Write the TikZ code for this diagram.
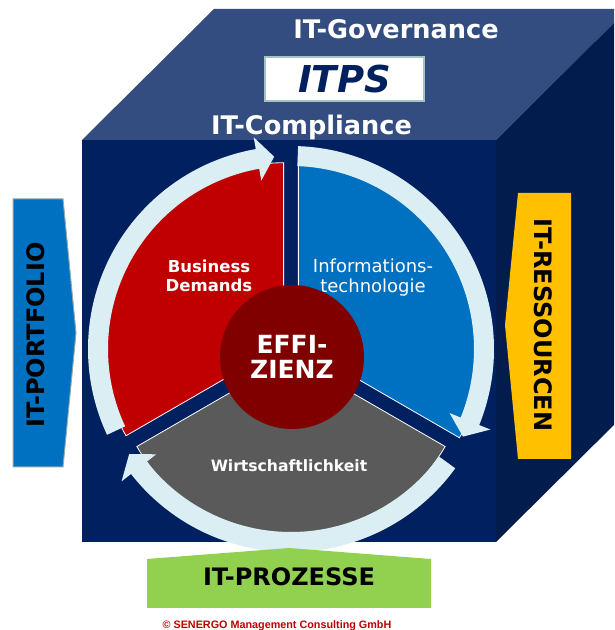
\documentclass[tikz,border=0pt]{standalone}
\usepackage{fontspec}
\setmainfont{DejaVu Sans}
\newfontfamily\arialfont{Liberation Sans}
\usepackage{tikz}
\usepackage{xcolor}

\definecolor{cubetop}{HTML}{344D80}
\definecolor{cubefront}{HTML}{002060}
\definecolor{cubeside}{HTML}{031C4E}
\definecolor{ringcol}{HTML}{DAEEF3}
\definecolor{redseg}{HTML}{C00000}
\definecolor{blueseg}{HTML}{0070C0}
\definecolor{grayseg}{HTML}{5A5A5A}
\definecolor{effcol}{HTML}{800000}
\definecolor{portline}{HTML}{8FA8B0}
\definecolor{ressocol}{HTML}{FFC000}
\definecolor{prozcol}{HTML}{92D050}
\definecolor{itpsline}{HTML}{A7C2C6}
\definecolor{itpstext}{HTML}{002060}

\tikzset{
	cubetext/.style = {text = white, anchor = base, inner sep = 0pt, font = \fontsize{25.6}{30}\selectfont\bfseries},
	segtext/.style  = {text = white, align = center, inner sep = 0pt, font = \fontsize{16.5}{19}\selectfont\bfseries},
	sidetext/.style = {text = black, inner sep = 0pt, font = \fontsize{24}{28}\selectfont\bfseries},
	segment/.style  = {draw = white, line width = 0.8pt},
}

\begin{document}
\begin{tikzpicture}[x = 1pt, y = 1pt]

	\useasboundingbox (0, 0) rectangle (614, 630);
	\clip (0, 0) rectangle (614, 630);

	% Wuerfel
	\fill[cubetop]   ( 82, 490) -- (496, 490) -- (628, 621) -- (214, 621) -- cycle; % Oberseite
	\fill[cubeside]  (496, 490) -- (628, 621) -- (628, 219) -- (496,  88) -- cycle; % rechte Seite
	\fill[cubefront] ( 82,  88) rectangle (496, 490); % Vorderseite

	\node[cubetext] (governance) at (396, 591.7) {IT-Governance};
	\node[draw = itpsline, line width = 1.5pt, fill = white, minimum width = 159pt, minimum height = 44pt, inner sep = 0pt,
		text = itpstext, font = \fontsize{37}{40}\selectfont\bfseries\itshape] (itps) at (344.5, 551) {ITPS};
	\node[cubetext] (compliance) at (311.5, 495) {IT-Compliance};

	\begin{scope}[shift = {(291, 281)}]
		% Segmente
		\fill[segment, fill = redseg,  shift = {(150:8.5)}] (0, 0) -- ( 90:182) arc[start angle =  90, end angle = 210, radius = 182] -- cycle;
		\fill[segment, fill = blueseg, shift = {( 30:8.5)}] (0, 0) -- (-30:186) arc[start angle = -30, end angle =  90, radius = 186] -- cycle;
		\fill[segment, fill = grayseg, shift = {(270:8.5)}] (0, 0) -- (210:178) arc[start angle = 210, end angle = 330, radius = 178] -- cycle;

		% Kreispfeile
		\foreach \tail/\tip in {205/95, 88/-27, -36/-147}{
			\pgfmathsetmacro{\base}{\tip + 5}
			\fill[ringcol] (\tail:183) arc[start angle = \tail, end angle = \base, radius = 183] -- (\base:171) -- (\tip:193)
				-- (\base:215) -- (\base:203) arc[start angle = \base, end angle = \tail, radius = 203] -- cycle;
		}
	\end{scope}

	\node[segtext] (business) at (209, 354) {Business\\Demands};
	\node[segtext, font = \fontsize{18}{20}\selectfont] (informations) at (373, 352) {Informations-\\technologie};
	\node[segtext, anchor = base, font = \fontsize{15.6}{19}\selectfont\bfseries] (wirtschaft) at (289, 158.3) {Wirtschaftlichkeit};
	\node[circle, fill = effcol, minimum size = 144pt, inner sep = 0pt, text = white, align = center,
		font = \fontsize{25}{25}\selectfont\bfseries] (effizienz) at (292, 273) {EFFI-\\ZIENZ};

	% Seitenpfeile
	\filldraw[fill = blueseg, draw = portline, line width = 1pt] ( 13, 431) -- ( 63, 431) -- ( 76, 297) -- ( 63, 163) -- ( 13, 163) -- cycle;
	\node[sidetext, rotate = 90] (portfolio) at (36, 295) {IT-PORTFOLIO};

	\fill[ressocol] (518, 437) -- (571, 437) -- (571, 171) -- (518, 171) -- (505, 305) -- cycle;
	\node[sidetext, rotate = -90] (ressourcen) at (543, 305) {IT-RESSOURCEN};

	\fill[prozcol] (147, 71) -- (289, 82) -- (431, 71) -- (431, 22) -- (147, 22) -- cycle;
	\node[sidetext] (prozesse) at (289, 53) {IT-PROZESSE};

	\node[text = redseg, anchor = base, inner sep = 0pt, font = \arialfont\fontsize{10.8}{12}\selectfont\bfseries] (copyright) at (277, 1.5) {© SENERGO Management Consulting GmbH};

\end{tikzpicture}
\end{document}
